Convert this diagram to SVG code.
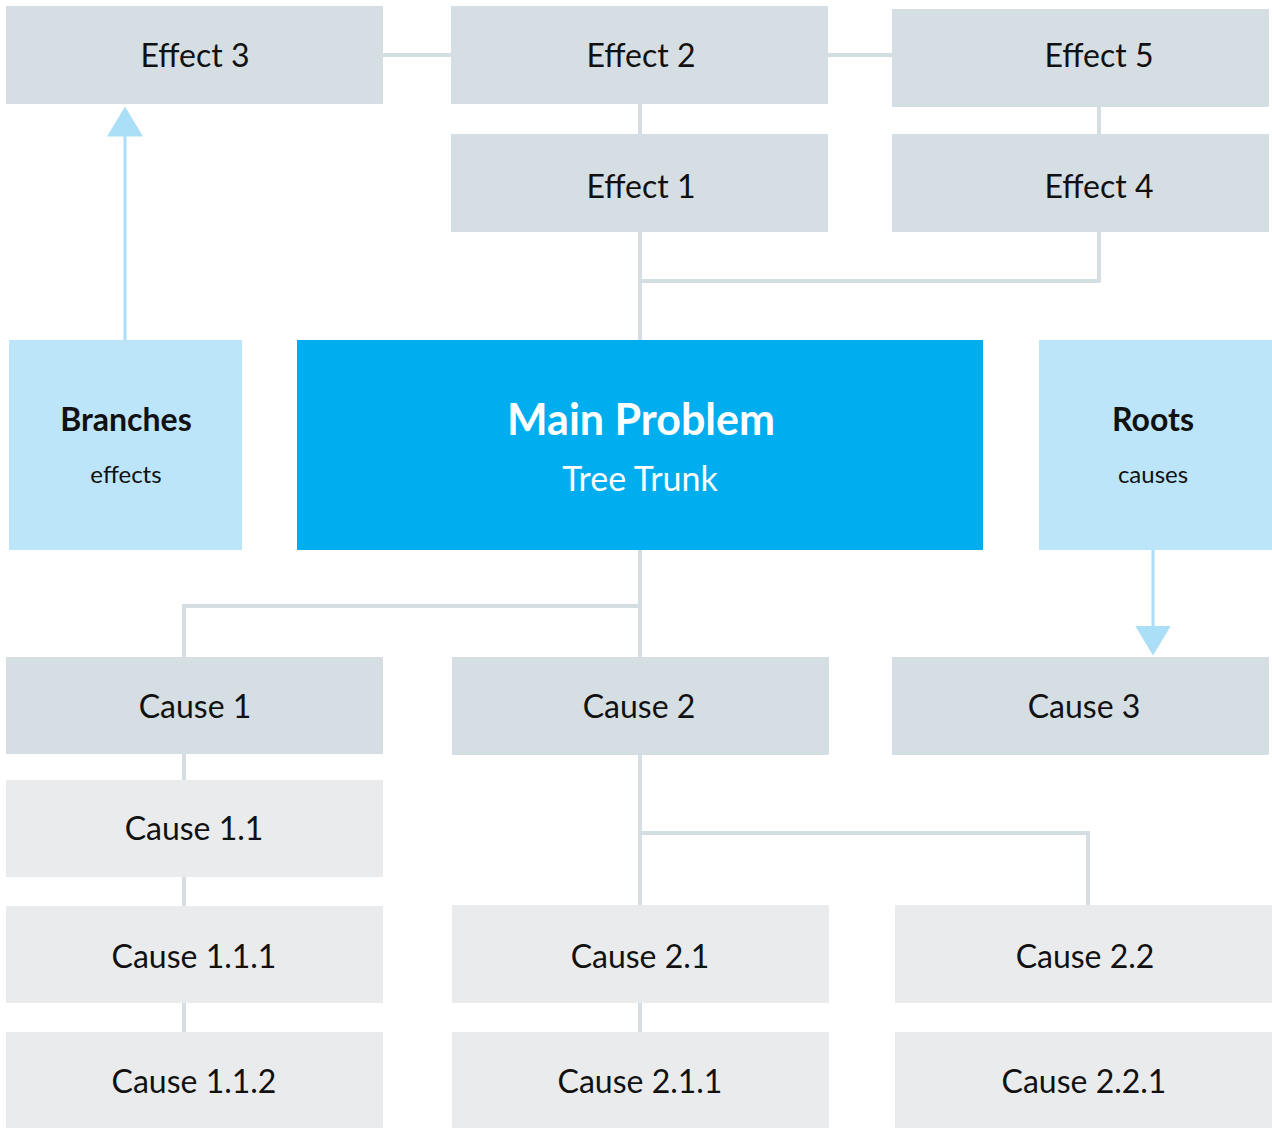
<svg xmlns="http://www.w3.org/2000/svg" width="1272" height="1128" viewBox="0 0 1272 1128">
<defs>
<style>
.lvl1{fill:#D5DEE3}
.lvl2{fill:#EAEBEC}
.side{fill:#BDE5F9}
.main{fill:#00AEEF}
.t{font-family:Lato,"Open Sans","Liberation Sans",sans-serif;font-size:32px;fill:#111;text-anchor:middle}
.tb{font-family:Lato,"Open Sans","Liberation Sans",sans-serif;font-size:32px;font-weight:700;fill:#111;text-anchor:middle}
.ts{font-family:Lato,"Open Sans","Liberation Sans",sans-serif;font-size:24px;fill:#111;text-anchor:middle}
.tm{font-family:Lato,"Open Sans","Liberation Sans",sans-serif;font-size:43px;font-weight:700;fill:#fff;text-anchor:middle}
.tmsub{font-family:Lato,"Open Sans","Liberation Sans",sans-serif;font-size:34px;fill:#fff;text-anchor:middle}
.conn{fill:none;stroke:#D5DEE3;stroke-width:4}
.arr{fill:none;stroke:#ABDFF8;stroke-width:3}
</style>
<marker id="ah" viewBox="0 0 30 36" refX="0.5" refY="18" markerWidth="30" markerHeight="36" markerUnits="userSpaceOnUse" orient="auto">
<path d="M0,0 L30,18 L0,36 Z" fill="#ABDFF8"/>
</marker>
</defs>
<rect width="1272" height="1128" fill="#fff"/>
<g id="connectors">
<path class="conn" d="M383,55 H892"/>
<path class="conn" d="M640,103 V134"/>
<path class="conn" d="M640,232 V340"/>
<path class="conn" d="M1099,107 V134"/>
<path class="conn" d="M1099,232 V281 H640"/>
<path class="conn" d="M640,550 V657"/>
<path class="conn" d="M640,606 H184 V657"/>
<path class="conn" d="M184,754 V780"/>
<path class="conn" d="M184,877 V906"/>
<path class="conn" d="M184,1003 V1032"/>
<path class="conn" d="M640,755 V905"/>
<path class="conn" d="M640,833 H1088 V905"/>
<path class="conn" d="M640,1003 V1032"/>
<path class="arr" d="M125,340 V136" marker-end="url(#ah)"/>
<path class="arr" d="M1153,550 V626" marker-end="url(#ah)"/>
</g>
<g id="effect3"><rect class="lvl1" x="6" y="6" width="377" height="98"/><text class="t" x="195" y="67">Effect 3</text></g>
<g id="effect2"><rect class="lvl1" x="451" y="6" width="377" height="98"/><text class="t" x="641" y="67">Effect 2</text></g>
<g id="effect5"><rect class="lvl1" x="892" y="9" width="377" height="98"/><text class="t" x="1099" y="67">Effect 5</text></g>
<g id="effect1"><rect class="lvl1" x="451" y="134" width="377" height="98"/><text class="t" x="641" y="198">Effect 1</text></g>
<g id="effect4"><rect class="lvl1" x="892" y="134" width="377" height="98"/><text class="t" x="1099" y="198">Effect 4</text></g>
<g id="branches"><rect class="side" x="9" y="340" width="233" height="210"/><text class="tb" x="126" y="431">Branches</text><text class="ts" x="126" y="483">effects</text></g>
<g id="main-problem"><rect class="main" x="297" y="340" width="686" height="210"/><text class="tm" x="641" y="435">Main Problem</text><text class="tmsub" x="640" y="491">Tree Trunk</text></g>
<g id="roots"><rect class="side" x="1039" y="340" width="233" height="210"/><text class="tb" x="1153" y="431">Roots</text><text class="ts" x="1153" y="483">causes</text></g>
<g id="cause1"><rect class="lvl1" x="6" y="657" width="377" height="97"/><text class="t" x="195" y="718">Cause 1</text></g>
<g id="cause2"><rect class="lvl1" x="452" y="657" width="377" height="98"/><text class="t" x="639" y="718">Cause 2</text></g>
<g id="cause3"><rect class="lvl1" x="892" y="657" width="377" height="98"/><text class="t" x="1084" y="718">Cause 3</text></g>
<g id="cause1-1"><rect class="lvl2" x="6" y="780" width="377" height="97"/><text class="t" x="194" y="840">Cause 1.1</text></g>
<g id="cause1-1-1"><rect class="lvl2" x="6" y="906" width="377" height="97"/><text class="t" x="194" y="968">Cause 1.1.1</text></g>
<g id="cause1-1-2"><rect class="lvl2" x="6" y="1032" width="377" height="96"/><text class="t" x="194" y="1093">Cause 1.1.2</text></g>
<g id="cause2-1"><rect class="lvl2" x="452" y="905" width="377" height="98"/><text class="t" x="640" y="968">Cause 2.1</text></g>
<g id="cause2-2"><rect class="lvl2" x="895" y="905" width="377" height="98"/><text class="t" x="1085" y="968">Cause 2.2</text></g>
<g id="cause2-1-1"><rect class="lvl2" x="452" y="1032" width="377" height="96"/><text class="t" x="640" y="1093">Cause 2.1.1</text></g>
<g id="cause2-2-1"><rect class="lvl2" x="895" y="1032" width="377" height="96"/><text class="t" x="1084" y="1093">Cause 2.2.1</text></g>
</svg>
